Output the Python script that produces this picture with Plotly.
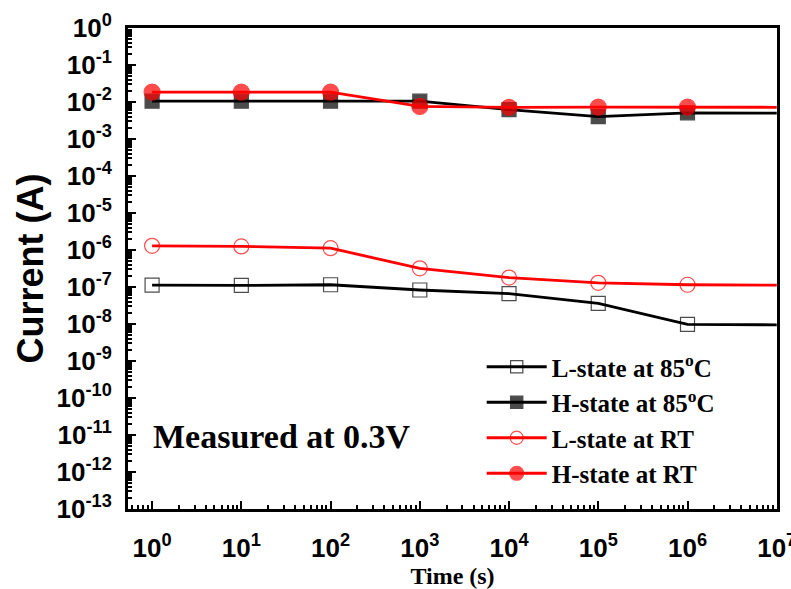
import plotly.graph_objects as go

time_s = [1, 10, 100, 1e3, 1e4, 1e5, 1e6, 1e7]
l_85 = [1.13e-7, 1.1e-7, 1.15e-7, 8.3e-8, 6.6e-8, 3.6e-8, 9.8e-9, 9.5e-9]
h_85 = [1.05e-2, 1.05e-2, 1.05e-2, 1.05e-2, 6.2e-3, 4.0e-3, 5.1e-3, 5.0e-3]
l_rt = [1.3e-6, 1.25e-6, 1.12e-6, 3.2e-7, 1.8e-7, 1.3e-7, 1.15e-7, 1.12e-7]
h_rt = [1.85e-2, 1.85e-2, 1.85e-2, 7.6e-3, 7.2e-3, 7.3e-3, 7.3e-3, 7.2e-3]

names = ["L-state at 85<sup>o</sup>C", "H-state at 85<sup>o</sup>C",
         "L-state at RT", "H-state at RT"]

fig = go.Figure()
specs = [
    (l_85, names[0], "black", "square-open", 14),
    (h_85, names[1], "black", "square", 14),
    (l_rt, names[2], "red", "circle-open", 15),
    (h_rt, names[3], "red", "circle", 16),
]
for ys, nm, col, sym, sz in specs:
    fig.add_trace(go.Scatter(
        x=time_s, y=ys, name=nm, mode="lines+markers",
        line=dict(color=col, width=2.8),
        marker=dict(symbol=sym, size=[sz] * 7 + [0], color=col,
                    line=dict(color=col, width=1.2)),
        cliponaxis=False,
    ))

yticks = [10.0 ** e for e in range(-13, 1)]
ytext = ["<b>10<sup>%d</sup></b>" % e for e in range(-13, 1)]
xticks = [10.0 ** e for e in range(0, 8)]
xtext = ["<b>10<sup>%d</sup></b>" % e for e in range(0, 8)]

yminor = [m * 10.0 ** e for e in range(-13, 0) for m in range(2, 10)]
xminor = [m * 10.0 ** e for e in range(-1, 7) for m in range(2, 10)]

fig.update_layout(
    width=791, height=589,
    margin=dict(l=128, r=14, t=28, b=80),
    plot_bgcolor="white", paper_bgcolor="white",
    legend=dict(x=0.545, y=0.343, xanchor="left", yanchor="top",
                bgcolor="rgba(0,0,0,0)",
                font=dict(family="Liberation Serif", size=25, color="black", weight="bold"),
                tracegroupgap=0, itemwidth=60),
    annotations=[dict(text="<b>Measured at 0.3V</b>", x=0.035, y=0.15,
                      xref="paper", yref="paper", xanchor="left", yanchor="middle",
                      showarrow=False,
                      font=dict(family="Liberation Serif", size=34, color="black"))],
)
fig.update_xaxes(
    type="log", range=[-0.27, 7.003], automargin=False,
    tickvals=xticks, ticktext=xtext, ticklabeloverflow="allow",
    ticks="inside", ticklen=8, tickwidth=2, tickcolor="black",
    minor=dict(ticks="inside", ticklen=4, tickwidth=1.5, tickcolor="black", tickvals=xminor),
    showline=True, linewidth=3, linecolor="black", mirror=True,
    showgrid=False, zeroline=False,
    tickfont=dict(family="Liberation Sans", size=26, color="black"),
    ticklabelstandoff=14,
    title=dict(text="<b>Time (s)</b>", standoff=3,
               font=dict(family="Liberation Serif", size=24, color="black")),
)
fig.update_yaxes(
    type="log", range=[-13, 0], automargin=False,
    tickvals=yticks, ticktext=ytext, ticklabeloverflow="allow",
    ticks="inside", ticklen=8, tickwidth=2, tickcolor="black",
    minor=dict(ticks="inside", ticklen=4, tickwidth=1.5, tickcolor="black", tickvals=yminor),
    showline=True, linewidth=3, linecolor="black", mirror=True,
    showgrid=False, zeroline=False,
    tickfont=dict(family="Liberation Sans", size=26, color="black"),
    ticklabelstandoff=8,
    title=dict(text="<b>Current (A)</b>", standoff=2,
               font=dict(family="Liberation Sans", size=36, color="black")),
)

fig.write_html("out.html")
